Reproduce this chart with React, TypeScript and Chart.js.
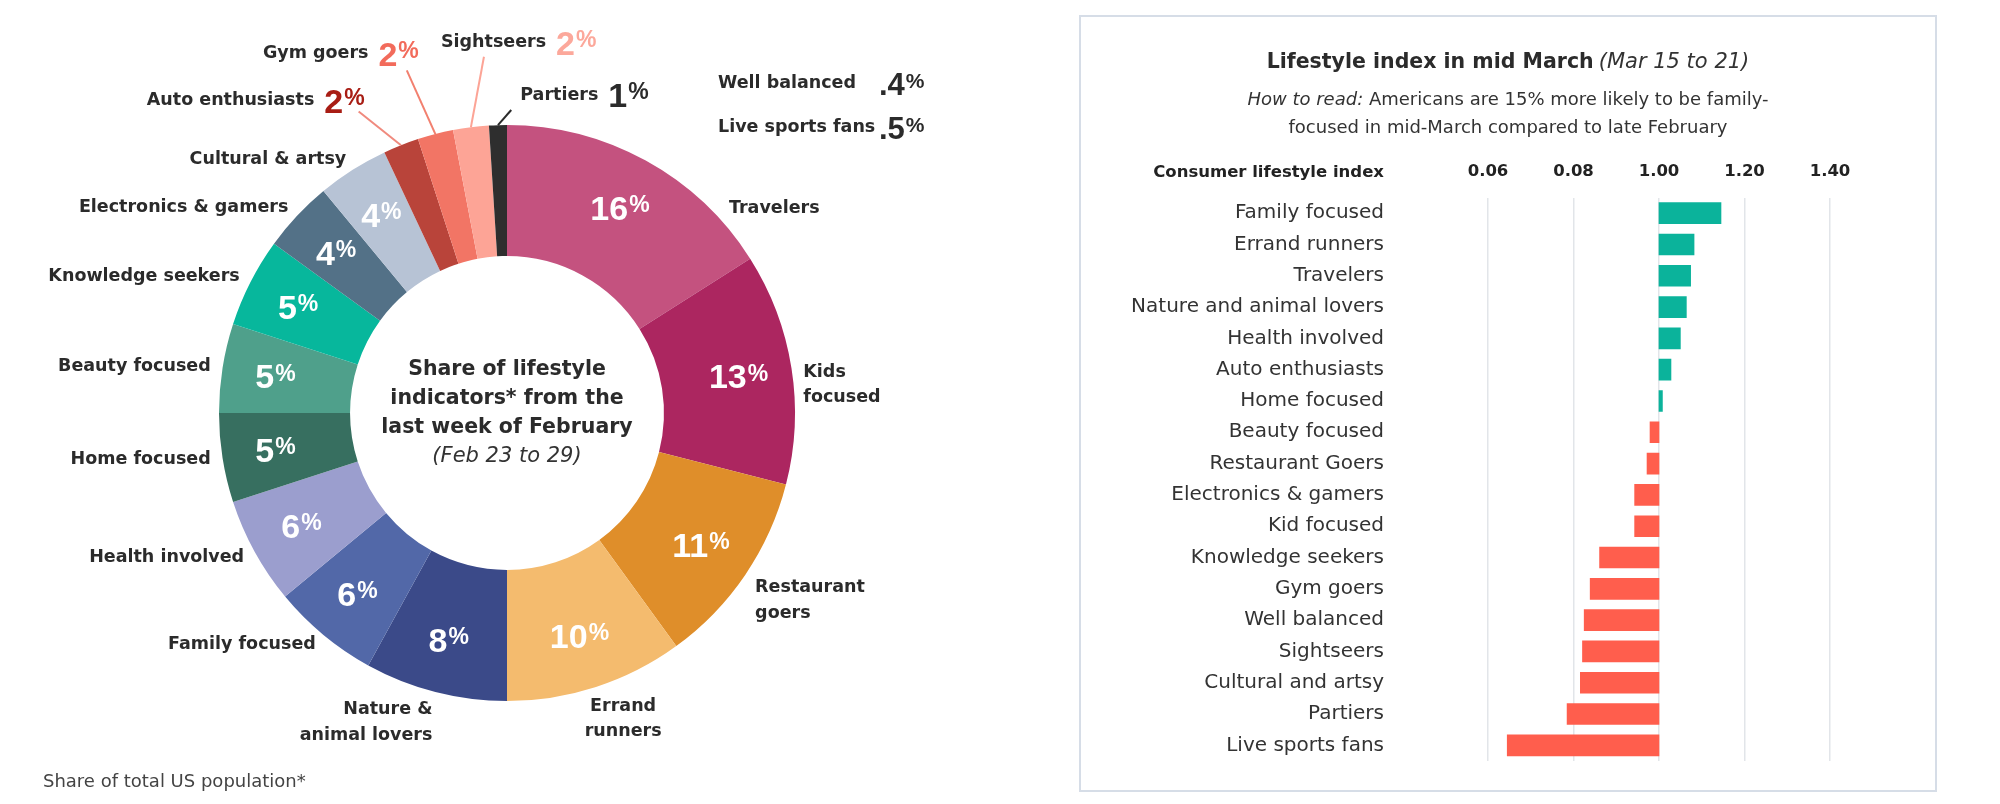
import React, { useEffect, useRef } from "react";
import { Chart, registerables } from "chart.js";

Chart.register(...registerables);

// ---------- Donut: share of lifestyle indicators (Feb 23 to 29) ----------
const shareCategories = [
  "Travelers",
  "Kids focused",
  "Restaurant goers",
  "Errand runners",
  "Nature & animal lovers",
  "Family focused",
  "Health involved",
  "Home focused",
  "Beauty focused",
  "Knowledge seekers",
  "Electronics & gamers",
  "Cultural & artsy",
  "Auto enthusiasts",
  "Gym goers",
  "Sightseers",
  "Partiers",
];
const shareValues = [16, 13, 11, 10, 8, 6, 6, 5, 5, 5, 4, 4, 2, 2, 2, 1];
const shareColors = [
  "#C4527F",
  "#AC2660",
  "#DF8E2A",
  "#F4BB6E",
  "#3B4A89",
  "#5268A8",
  "#9B9ECE",
  "#376F60",
  "#4FA08B",
  "#07B79C",
  "#537187",
  "#B7C3D5",
  "#B9443A",
  "#F27565",
  "#FDA496",
  "#2E2E2E",
];
// categories listed without a visible slice
const extraCategories = ["Well balanced", "Live sports fans"];
const extraValues = [0.4, 0.5];

// ---------- Bars: lifestyle index in mid March ----------
const indexCategories = [
  "Family focused",
  "Errand runners",
  "Travelers",
  "Nature and animal lovers",
  "Health involved",
  "Auto enthusiasts",
  "Home focused",
  "Beauty focused",
  "Restaurant Goers",
  "Electronics & gamers",
  "Kid focused",
  "Knowledge seekers",
  "Gym goers",
  "Well balanced",
  "Sightseers",
  "Cultural and artsy",
  "Partiers",
  "Live sports fans",
];
const indexValues = [
  1.145, 1.082, 1.074, 1.064, 1.05, 1.028, 1.008, 0.979, 0.972, 0.943, 0.943,
  0.861, 0.839, 0.825, 0.821, 0.816, 0.785, 0.645,
];
const indexBase = 1.0;
const indexTickValues = [0.6, 0.8, 1.0, 1.2, 1.4];
const indexTickLabels = ["0.06", "0.08", "1.00", "1.20", "1.40"];

// ---------- Styling / label layout (not data) ----------
const TEAL = "#0BB39B";
const CORAL = "#FF5E4D";
const DARK = "#2B2B2B";
const LABEL_FONT = '"DejaVu Sans", sans-serif';
const NUM_FONT = '"Liberation Sans", Arial, sans-serif';
const BIG = 34;
const SMALL = 23;

type LabelLayout = {
  da?: number; // angle nudge, degrees
  dr?: number; // distance beyond outer radius
  align: CanvasTextAlign;
  lines?: string[];
  leader?: boolean;
  tx?: number;
  ty?: number;
  valueColor?: string;
  lineColor?: string;
};

const shareLabelLayout: LabelLayout[] = [
  { da: 18.6, dr: 13.5, align: "left" },
  { align: "left", lines: ["Kids", "focused"] },
  { align: "left", lines: ["Restaurant", "goers"] },
  { align: "center", lines: ["Errand", "runners"], da: -4, dr: 22 },
  { align: "right", lines: ["Nature &", "animal lovers"] },
  { align: "right" },
  { align: "right" },
  { align: "right" },
  { align: "right" },
  { align: "right" },
  { align: "right" },
  { align: "right" },
  { leader: true, da: -4.6, dr: 48, align: "right", tx: 6, ty: -11, valueColor: "#A81D14", lineColor: "#F08A7E" },
  { leader: true, da: -1.9, dr: 69, align: "right", tx: 12, ty: -17, valueColor: "#F26B5B", lineColor: "#F2806F" },
  { leader: true, da: 3.5, dr: 69, align: "left", tx: -43, ty: -14, valueColor: "#FCA89B", lineColor: "#FCA496" },
  { leader: true, da: 2.6, dr: 15, align: "left", tx: 9, ty: -15, valueColor: DARK, lineColor: DARK },
];

function fmtValue(v: number): string {
  const s = String(v);
  return s.startsWith("0.") ? s.slice(1) : s;
}

function measureValue(ctx: CanvasRenderingContext2D, txt: string, big: number, small: number) {
  ctx.font = `bold ${big}px ${NUM_FONT}`;
  const w1 = ctx.measureText(txt).width;
  ctx.font = `bold ${small}px ${NUM_FONT}`;
  const w2 = ctx.measureText("%").width;
  return { w1, w2, total: w1 + 1 + w2 };
}

function drawValue(
  ctx: CanvasRenderingContext2D,
  txt: string,
  left: number,
  cy: number,
  big: number,
  small: number,
  color: string
) {
  const m = measureValue(ctx, txt, big, small);
  const base = cy + big * 0.358;
  ctx.fillStyle = color;
  ctx.textAlign = "left";
  ctx.textBaseline = "alphabetic";
  ctx.font = `bold ${big}px ${NUM_FONT}`;
  ctx.fillText(txt, left, base);
  ctx.font = `bold ${small}px ${NUM_FONT}`;
  ctx.fillText("%", left + m.w1 + 1, base - big * 0.716 + small * 0.716);
  return m.total;
}

const donutLabelsPlugin = {
  id: "donutLabels",
  afterDatasetsDraw(chart: any) {
    const ctx: CanvasRenderingContext2D = chart.ctx;
    const meta = chart.getDatasetMeta(0);
    let cx = 0;
    let cy = 0;
    let outer = 0;
    ctx.save();
    meta.data.forEach((arc: any, i: number) => {
      const p = arc.getProps(
        ["x", "y", "startAngle", "endAngle", "innerRadius", "outerRadius"],
        true
      );
      cx = p.x;
      cy = p.y;
      outer = p.outerRadius;
      const mid = (p.startAngle + p.endAngle) / 2;
      const lay = shareLabelLayout[i];
      const ang = mid + ((lay.da ?? 0) * Math.PI) / 180;
      const r = p.outerRadius + (lay.dr ?? 12);
      const ax = p.x + r * Math.cos(ang);
      const ay = p.y + r * Math.sin(ang);
      const valTxt = fmtValue(shareValues[i]);

      if (lay.leader) {
        ctx.strokeStyle = lay.lineColor || DARK;
        ctx.lineWidth = 2;
        ctx.beginPath();
        ctx.moveTo(p.x + p.outerRadius * Math.cos(mid), p.y + p.outerRadius * Math.sin(mid));
        ctx.lineTo(ax, ay);
        ctx.stroke();
        const tx = ax + (lay.tx ?? 0);
        const ty = ay + (lay.ty ?? 0);
        ctx.font = `bold 17.5px ${LABEL_FONT}`;
        const nameW = ctx.measureText(shareCategories[i]).width;
        const vm = measureValue(ctx, valTxt, BIG, SMALL);
        const total = nameW + 10 + vm.total;
        const left = lay.align === "right" ? tx - total : tx;
        ctx.font = `bold 17.5px ${LABEL_FONT}`;
        ctx.fillStyle = DARK;
        ctx.textAlign = "left";
        ctx.textBaseline = "middle";
        ctx.fillText(shareCategories[i], left, ty);
        drawValue(ctx, valTxt, left + nameW + 10, ty, BIG, SMALL, lay.valueColor || DARK);
      } else {
        // name outside
        const lines = lay.lines || [shareCategories[i]];
        ctx.font = `bold 17.5px ${LABEL_FONT}`;
        ctx.fillStyle = DARK;
        ctx.textAlign = lay.align;
        ctx.textBaseline = "middle";
        const y0 = lines.length > 1 ? ay + 6 : ay;
        lines.forEach((ln, k) => ctx.fillText(ln, ax, y0 + k * 25.5));
        // value inside the slice, a little outside the ring's middle
        const vr = (p.innerRadius + p.outerRadius) / 2 + 12;
        const vx = p.x + vr * Math.cos(mid);
        const vy = p.y + vr * Math.sin(mid);
        const vm = measureValue(ctx, valTxt, BIG, SMALL);
        drawValue(ctx, valTxt, vx - vm.total / 2, vy, BIG, SMALL, "#FFFFFF");
      }
    });

    // categories without visible slices
    extraCategories.forEach((name, k) => {
      const y = cy - outer - 42 + k * 44;
      ctx.font = `bold 17.5px ${LABEL_FONT}`;
      ctx.fillStyle = DARK;
      ctx.textAlign = "left";
      ctx.textBaseline = "middle";
      ctx.fillText(name, cx + 211, y);
      drawValue(ctx, fmtValue(extraValues[k]), cx + 372, y + 1, 31, 21, DARK);
    });

    // centre text
    ctx.fillStyle = DARK;
    ctx.textAlign = "center";
    ctx.textBaseline = "middle";
    ctx.font = `bold 20.5px ${LABEL_FONT}`;
    ctx.fillText("Share of lifestyle", cx, cy - 43);
    ctx.fillText("indicators* from the", cx, cy - 14);
    ctx.fillText("last week of February", cx, cy + 15);
    ctx.font = `italic 21px ${LABEL_FONT}`;
    ctx.fillStyle = "#333";
    ctx.fillText("(Feb 23 to 29)", cx, cy + 44);
    ctx.restore();
  },
};

export default function App() {
  const donutRef = useRef<HTMLCanvasElement | null>(null);
  const barRef = useRef<HTMLCanvasElement | null>(null);

  useEffect(() => {
    if (!donutRef.current || !barRef.current) return;
    const donut = new Chart(donutRef.current, {
      type: "doughnut",
      data: {
        labels: shareCategories,
        datasets: [
          {
            data: shareValues,
            backgroundColor: shareColors,
            borderWidth: 0,
          },
        ],
      },
      options: {
        responsive: false,
        animation: false,
        cutout: "54.5%",
        layout: { padding: { top: 125, bottom: 103, left: 219, right: 205 } },
        plugins: { legend: { display: false }, tooltip: { enabled: false } },
      },
      plugins: [donutLabelsPlugin],
    } as any);

    const bars = new Chart(barRef.current, {
      type: "bar",
      data: {
        labels: indexCategories,
        datasets: [
          {
            data: indexValues.map((v) => [indexBase, v]),
            backgroundColor: indexValues.map((v) => (v >= indexBase ? TEAL : CORAL)),
            borderWidth: 0,
            barThickness: 21,
          },
        ],
      },
      options: {
        indexAxis: "y",
        responsive: false,
        animation: false,
        layout: { padding: { top: 130.5, bottom: 28, left: 0, right: 105 } },
        plugins: { legend: { display: false }, tooltip: { enabled: false } },
        scales: {
          x: {
            position: "top",
            min: 0.6,
            max: 1.4,
            afterBuildTicks: (s: any) => {
              s.ticks = indexTickValues.map((v) => ({ value: v }));
            },
            afterFit: (s: any) => {
              s.height = 50;
              s.paddingLeft = 0;
              s.paddingRight = 0;
            },
            ticks: {
              callback: (_v: any, i: number) => indexTickLabels[i],
              font: { family: "DejaVu Sans", weight: "bold", size: 16.5 },
              color: "#222",
              padding: 16,
              maxRotation: 0,
            },
            grid: { color: "#E2E5E9", lineWidth: 1.5, drawTicks: false },
            border: { display: false },
          },
          y: {
            afterFit: (s: any) => {
              s.width = 407;
              s.paddingTop = 0;
              s.paddingBottom = 0;
            },
            ticks: {
              autoSkip: false,
              font: { family: "DejaVu Sans", size: 20 },
              color: "#333",
              padding: 104,
            },
            grid: { display: false, drawTicks: false },
            border: { display: false },
          },
        },
      },
    } as any);

    return () => {
      donut.destroy();
      bars.destroy();
    };
  }, []);

  const font = '"DejaVu Sans", sans-serif';
  return (
    <div
      style={{
        position: "fixed",
        left: 0,
        top: 0,
        width: 2000,
        height: 804,
        background: "#fff",
        overflow: "hidden",
        fontFamily: font,
      }}
    >
      <canvas
        ref={donutRef}
        width={1000}
        height={804}
        style={{ position: "absolute", left: 0, top: 0, width: 1000, height: 804 }}
      />
      <div
        style={{
          position: "absolute",
          left: 43,
          top: 770,
          fontSize: 18,
          lineHeight: "22px",
          color: "#444",
          whiteSpace: "nowrap",
        }}
      >
        Share of total US population*
      </div>

      <div
        style={{
          position: "absolute",
          left: 1079,
          top: 15,
          width: 858,
          height: 777,
          border: "2px solid #D6DDE7",
          boxSizing: "border-box",
        }}
      />
      <canvas
        ref={barRef}
        width={854}
        height={772}
        style={{ position: "absolute", left: 1081, top: 17, width: 854, height: 772 }}
      />
      <div
        style={{
          position: "absolute",
          left: 1079,
          width: 858,
          top: 47,
          lineHeight: "28px",
          textAlign: "center",
          color: DARK,
          whiteSpace: "nowrap",
        }}
      >
        <span style={{ fontWeight: "bold", fontSize: 20.5 }}>Lifestyle index in mid March</span>{" "}
        <span style={{ fontStyle: "italic", fontSize: 21, color: "#333" }}>(Mar 15 to 21)</span>
      </div>
      <div
        style={{
          position: "absolute",
          left: 1079,
          width: 858,
          top: 85,
          lineHeight: "28px",
          fontSize: 18,
          textAlign: "center",
          color: "#333",
          whiteSpace: "nowrap",
        }}
      >
        <i>How to read:</i> Americans are 15% more likely to be family-
        <br />
        focused in mid-March compared to late February
      </div>
      <div
        style={{
          position: "absolute",
          left: 1084,
          width: 300,
          top: 160,
          lineHeight: "24px",
          fontSize: 16.5,
          fontWeight: "bold",
          textAlign: "right",
          color: "#222",
          whiteSpace: "nowrap",
        }}
      >
        Consumer lifestyle index
      </div>
    </div>
  );
}
